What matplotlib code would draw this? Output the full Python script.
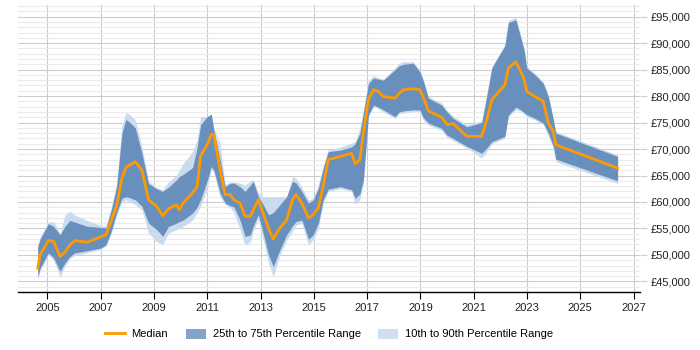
import numpy as np
import matplotlib
matplotlib.use("Agg")
import matplotlib.pyplot as plt
from matplotlib.ticker import MultipleLocator, FuncFormatter
from matplotlib.patches import Patch
from matplotlib.lines import Line2D

# values in thousands of pounds
years = [2004.64, 2004.73, 2005.04, 2005.23, 2005.48, 2005.66, 2005.85, 2006.04, 2006.5, 2007.0,
         2007.2, 2007.4, 2007.6, 2007.8, 2007.95, 2008.1, 2008.3, 2008.55, 2008.8, 2009.1,
         2009.33, 2009.55, 2009.85, 2009.95, 2010.1, 2010.45, 2010.62, 2010.75, 2011.0, 2011.15,
         2011.25, 2011.48, 2011.67, 2011.86, 2012.0, 2012.23, 2012.42, 2012.62, 2012.73, 2012.92,
         2013.1, 2013.3, 2013.48, 2013.73, 2013.98, 2014.2, 2014.33, 2014.55, 2014.8, 2014.98,
         2015.17, 2015.36, 2015.54, 2016.0, 2016.42, 2016.55, 2016.73, 2016.86, 2017.05, 2017.24,
         2017.42, 2017.61, 2018.05, 2018.2, 2018.36, 2018.73, 2018.98, 2019.1, 2019.3, 2019.8,
         2020.0, 2020.23, 2020.74, 2021.3, 2021.49, 2021.68, 2022.17, 2022.3, 2022.58, 2022.74,
         2022.89, 2022.99, 2023.3, 2023.61, 2023.8, 2023.99, 2024.08, 2026.4]

median = [47.5, 50.0, 52.7, 52.6, 49.7, 50.5, 51.9, 52.7, 52.4, 53.4,
          53.8, 56.5, 59.2, 64.5, 66.5, 67.0, 67.6, 66.0, 60.4, 59.2,
          57.4, 58.7, 59.5, 58.5, 59.8, 61.7, 62.9, 68.7, 70.8, 72.7,
          72.7, 66.1, 61.4, 61.4, 60.4, 59.8, 57.3, 57.3, 58.5, 60.4,
          57.9, 55.0, 53.0, 55.1, 56.6, 60.4, 61.4, 59.8, 57.0, 57.6,
          58.9, 63.2, 68.0, 68.6, 69.2, 67.2, 68.0, 73.0, 79.3, 81.2,
          80.9, 79.9, 79.6, 80.5, 81.2, 81.4, 81.2, 79.9, 77.2, 76.0,
          74.6, 74.8, 72.4, 72.4, 75.5, 79.3, 82.1, 85.3, 86.5, 84.9,
          83.2, 80.9, 79.9, 79.0, 74.9, 73.3, 70.8, 66.4]

p25 = [45.9, 47.5, 50.4, 49.5, 46.9, 48.5, 49.7, 50.4, 50.8, 51.3,
       51.9, 54.5, 57.9, 60.7, 61.0, 60.8, 60.4, 59.2, 56.0, 54.8,
       53.5, 55.4, 56.0, 56.3, 56.6, 57.9, 59.0, 60.4, 64.0, 66.7,
       66.0, 61.7, 59.8, 59.3, 59.1, 56.6, 53.5, 53.8, 55.5, 57.6,
       54.1, 50.0, 47.8, 51.0, 53.8, 55.5, 56.3, 56.6, 53.0, 53.8,
       56.0, 60.5, 62.4, 62.9, 62.3, 60.7, 61.5, 64.2, 76.4, 78.3,
       77.9, 77.4, 76.1, 77.0, 77.2, 77.4, 77.4, 76.0, 74.9, 73.9,
       72.6, 72.0, 70.5, 69.2, 70.2, 71.4, 72.4, 76.4, 77.9, 77.5,
       76.9, 76.5, 75.8, 74.9, 73.0, 70.5, 68.1, 64.0]

p75 = [51.5, 53.0, 55.9, 55.4, 53.8, 55.4, 56.5, 56.2, 55.4, 55.2,
       55.1, 58.5, 62.9, 73.0, 75.6, 75.0, 74.0, 69.2, 63.5, 62.5,
       62.0, 62.8, 64.2, 64.8, 65.2, 66.5, 70.2, 74.6, 76.1, 76.6,
       73.5, 68.0, 62.9, 63.5, 63.6, 62.9, 62.0, 63.2, 63.9, 61.0,
       59.5, 57.6, 58.0, 59.5, 61.0, 63.9, 63.6, 62.0, 59.8, 60.4,
       62.6, 66.5, 69.5, 69.8, 70.4, 71.0, 73.0, 76.8, 82.4, 83.4,
       83.2, 83.0, 85.0, 85.7, 86.0, 86.2, 84.6, 83.0, 79.6, 78.3,
       77.0, 75.8, 74.2, 75.0, 80.0, 85.3, 89.5, 93.9, 94.4, 91.5,
       88.7, 85.3, 84.0, 82.4, 79.9, 75.5, 73.0, 68.6]

p10 = [45.3, 47.0, 50.0, 49.0, 45.9, 47.8, 49.4, 49.9, 50.4, 51.1,
       51.7, 54.0, 57.6, 60.0, 60.4, 60.0, 59.5, 58.5, 54.1, 52.5,
       52.0, 54.1, 54.8, 55.0, 55.4, 56.6, 58.0, 59.2, 62.5, 66.1,
       65.5, 61.0, 59.5, 59.0, 58.0, 54.8, 51.9, 52.5, 54.5, 56.8,
       52.9, 48.5, 45.9, 50.0, 52.8, 54.5, 55.6, 56.0, 51.9, 52.9,
       55.0, 60.0, 62.0, 62.5, 62.0, 59.5, 60.5, 63.5, 76.1, 78.0,
       77.6, 77.0, 75.8, 76.7, 76.8, 77.1, 77.1, 75.5, 74.5, 73.5,
       72.2, 71.6, 70.2, 68.3, 69.5, 71.0, 72.0, 76.1, 77.4, 77.2,
       76.6, 76.1, 75.5, 74.6, 72.5, 70.0, 67.6, 63.5]

p90 = [52.0, 53.4, 56.2, 56.3, 54.1, 57.5, 58.3, 57.5, 56.5, 55.6,
       55.4, 59.0, 63.5, 74.3, 76.9, 76.5, 75.5, 70.4, 63.9, 62.7,
       62.3, 63.8, 65.1, 66.0, 67.3, 69.5, 71.7, 76.1, 76.2, 76.5,
       74.0, 71.0, 63.3, 63.8, 63.7, 63.6, 63.2, 64.0, 64.2, 61.7,
       61.0, 61.0, 61.0, 61.0, 61.0, 64.8, 64.5, 62.8, 60.4, 60.7,
       63.3, 67.0, 69.8, 70.4, 71.1, 71.4, 74.0, 77.4, 83.0, 83.8,
       83.5, 83.2, 85.4, 86.2, 86.5, 86.5, 84.9, 83.3, 79.9, 78.7,
       77.3, 76.2, 74.6, 75.3, 80.5, 85.6, 89.8, 94.3, 94.9, 92.0,
       89.0, 85.6, 84.3, 82.7, 80.2, 75.8, 73.3, 68.9]

x_ticks = list(range(2005, 2028, 2))

x = np.array(years)
k = 1000

plt.rcParams['font.family'] = ['Liberation Sans', 'DejaVu Sans']

fig = plt.figure(figsize=(7, 3.5), dpi=100)
ax = fig.add_axes([18 / 700, 1 - 292 / 350, 622 / 700, 287 / 350])

light = '#c9dbee'
dark = '#6990bc'
orange = '#ff9900'

ax.fill_between(x, np.array(p10) * k, np.array(p90) * k, color=light, lw=0, zorder=2)
ax.fill_between(x, np.array(p25) * k, np.array(p75) * k, color=dark, lw=0, zorder=3)
ax.plot(x, np.array(median) * k, color=orange, lw=2, zorder=4)

ax.set_xlim(2003.9, 2027.24)
ax.set_ylim(43000, 97200)
ax.set_xticks(x_ticks)
ax.yaxis.set_major_locator(MultipleLocator(5000))
ax.yaxis.set_minor_locator(MultipleLocator(1000))
ax.yaxis.set_major_formatter(FuncFormatter(lambda v, p: '£{:,.0f}'.format(v)))
ax.yaxis.tick_right()

ax.grid(axis='x', color='#cccccc', lw=0.8, zorder=0)
ax.grid(axis='y', which='major', color='#cccccc', lw=0.8, zorder=0)
ax.grid(axis='y', which='minor', color='#ebebeb', lw=0.8, zorder=0)
ax.set_axisbelow(True)

for s in ['left', 'right', 'top']:
    ax.spines[s].set_visible(False)
ax.spines['bottom'].set_color('black')
ax.spines['bottom'].set_linewidth(1)

ax.tick_params(axis='x', length=5, width=0.8, color='black', labelsize=8, pad=3, labelcolor='#222222')
ax.tick_params(axis='y', which='major', length=5, width=0.8, color='#cccccc', labelsize=8, pad=3, labelcolor='#222222')
ax.tick_params(axis='y', which='minor', length=0)

handles = [
    Line2D([], [], color=orange, lw=2),
    Patch(facecolor='#84a3c7', lw=0),
    Patch(facecolor='#cfdff0', lw=0),
]
labels = ['Median', '25th to 75th Percentile Range', '10th to 90th Percentile Range']
fig.legend(handles, labels, loc='center', bbox_to_anchor=(329 / 700, 1 - 334 / 350), ncol=3,
           frameon=False, fontsize=8, handlelength=1.8, handleheight=1.0, columnspacing=1.6,
           handletextpad=0.6)

fig.savefig('out.png', dpi=100)
